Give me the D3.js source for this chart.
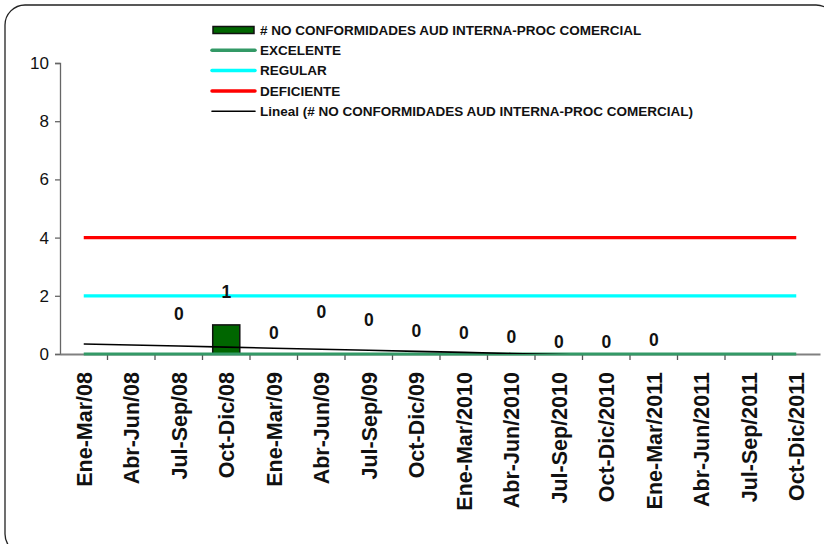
<!DOCTYPE html>
<html>
<head>
<meta charset="utf-8">
<script src="https://cdn.jsdelivr.net/npm/d3@7"></script>
<style>
  html, body { margin: 0; padding: 0; background: #fff; }
  svg { display: block; font-family: "Liberation Sans", Arial, sans-serif; }
</style>
</head>
<body>
<svg id="chart" width="824" height="544"></svg>
<script>
// Quarterly periods on the category axis
const periods = [
  "Ene-Mar/08", "Abr-Jun/08", "Jul-Sep/08", "Oct-Dic/08",
  "Ene-Mar/09", "Abr-Jun/09", "Jul-Sep/09", "Oct-Dic/09",
  "Ene-Mar/2010", "Abr-Jun/2010", "Jul-Sep/2010", "Oct-Dic/2010",
  "Ene-Mar/2011", "Abr-Jun/2011", "Jul-Sep/2011", "Oct-Dic/2011"
];
// Non-conformities found per quarter (null = no audit reported)
const noConformidades = [null, null, 0, 1, 0, 0, 0, 0, 0, 0, 0, 0, 0, null, null, null];
// Reference levels
const excelente = [0, 0, 0, 0, 0, 0, 0, 0, 0, 0, 0, 0, 0, 0, 0, 0];
const regular = [2, 2, 2, 2, 2, 2, 2, 2, 2, 2, 2, 2, 2, 2, 2, 2];
const deficiente = [4, 4, 4, 4, 4, 4, 4, 4, 4, 4, 4, 4, 4, 4, 4, 4];
const yTicks = [0, 2, 4, 6, 8, 10];

// Vertical lift (px) of each value label above its bar top
const labelLift = [0, 0, 40, 33, 21, 42, 34, 23, 21, 17, 12, 12, 14, 0, 0, 0];

const svg = d3.select("#chart");
const m = { left: 60, right: 820, top: 63, bottom: 354 };

const x = d3.scaleBand().domain(periods).range([m.left, m.right]).padding(0);
const y = d3.scaleLinear().domain([0, 10]).range([m.bottom, m.top]);
const cx = p => x(p) + x.bandwidth() / 2;

// Outer rounded frame
svg.append("rect")
  .attr("x", 5).attr("y", 5).attr("width", 831).attr("height", 549)
  .attr("rx", 20).attr("ry", 20)
  .attr("fill", "#fff").attr("stroke", "#222").attr("stroke-width", 1.3);

svg.append("defs").append("clipPath").attr("id", "plot")
  .append("rect").attr("x", m.left).attr("y", m.top)
  .attr("width", m.right - m.left).attr("height", m.bottom - m.top);

// Axes
const yAxis = svg.append("g").attr("transform", `translate(${m.left},0)`)
  .call(d3.axisLeft(y).tickValues(yTicks).tickSize(5).tickPadding(6));
yAxis.select(".domain").attr("stroke", "#666").attr("stroke-width", 1.3);
yAxis.selectAll(".tick line").attr("stroke", "#666").attr("stroke-width", 1.3);
yAxis.selectAll(".tick text")
  .attr("font-size", 17).attr("fill", "#111")
  .attr("font-family", "Liberation Sans, Arial, sans-serif");

const xAxis = svg.append("g").attr("transform", `translate(0,${m.bottom})`)
  .call(d3.axisBottom(x).tickSize(0).tickSizeOuter(0));
xAxis.select(".domain").attr("stroke", "#808080").attr("stroke-width", 2);
// Tick marks on category boundaries
xAxis.append("g").selectAll("line")
  .data(periods.slice(1))
  .join("line")
  .attr("x1", p => x(p)).attr("x2", p => x(p))
  .attr("y1", 0).attr("y2", 6)
  .attr("stroke", "#555").attr("stroke-width", 1.3);
xAxis.selectAll(".tick text")
  .attr("transform", "rotate(-90)")
  .attr("text-anchor", "end")
  .attr("x", -18).attr("y", 0).attr("dy", "0.36em")
  .attr("font-size", 21.5).attr("font-weight", "bold").attr("fill", "#111")
  .attr("font-family", "Liberation Sans, Arial, sans-serif");

// Bars
const barW = x.bandwidth() * 0.57;
svg.append("g").selectAll("rect")
  .data(periods.map((p, i) => ({ p, v: noConformidades[i] })).filter(d => d.v !== null && d.v > 0))
  .join("rect")
  .attr("x", d => cx(d.p) - barW / 2)
  .attr("y", d => y(d.v))
  .attr("width", barW)
  .attr("height", d => y(0) - y(d.v))
  .attr("fill", "#006600")
  .attr("stroke", "#111").attr("stroke-width", 1.5);

// Reference lines
const refLine = d3.line().x((d, i) => cx(periods[i])).y(d => y(d));
[[deficiente, "#ff0000"], [regular, "#00ffff"], [excelente, "#339966"]].forEach(([vals, col]) => {
  svg.append("path").attr("d", refLine(vals))
    .attr("fill", "none").attr("stroke", col).attr("stroke-width", 3.2);
});

// Linear trend of the reported quarters (x = 1..n)
const pts = noConformidades.map((v, i) => [i + 1, v]).filter(d => d[1] !== null);
const mx = d3.mean(pts, d => d[0]), my = d3.mean(pts, d => d[1]);
const slope = d3.sum(pts, d => (d[0] - mx) * (d[1] - my)) / d3.sum(pts, d => (d[0] - mx) ** 2);
const icpt = my - slope * mx;
const trend = periods.map((p, i) => icpt + slope * (i + 1));
svg.append("path")
  .attr("clip-path", "url(#plot)")
  .attr("d", refLine(trend))
  .attr("fill", "none").attr("stroke", "#000").attr("stroke-width", 1.6);

// Value labels
svg.append("g").selectAll("text")
  .data(periods.map((p, i) => ({ p, v: noConformidades[i], lift: labelLift[i] })).filter(d => d.v !== null))
  .join("text")
  .attr("x", d => cx(d.p))
  .attr("y", d => y(d.v) - d.lift)
  .attr("dy", "0.36em")
  .attr("text-anchor", "middle")
  .attr("font-size", 17.5).attr("font-weight", "bold").attr("fill", "#111")
  .text(d => d.v);

// Legend
const legend = [
  { name: "# NO CONFORMIDADES AUD INTERNA-PROC COMERCIAL", type: "bar", color: "#006600" },
  { name: "EXCELENTE", type: "line", color: "#339966", w: 3.5 },
  { name: "REGULAR", type: "line", color: "#00ffff", w: 3.5 },
  { name: "DEFICIENTE", type: "line", color: "#ff0000", w: 3.5 },
  { name: "Lineal (# NO CONFORMIDADES AUD INTERNA-PROC COMERCIAL)", type: "line", color: "#000", w: 1.6 }
];
const lg = svg.append("g").attr("transform", "translate(212,30)");
legend.forEach((d, i) => {
  const g = lg.append("g").attr("transform", `translate(0,${i * 20.3})`);
  if (d.type === "bar") {
    g.append("rect").attr("x", 1).attr("y", -3.5).attr("width", 41).attr("height", 7)
      .attr("fill", d.color).attr("stroke", "#111").attr("stroke-width", 1.5);
  } else {
    g.append("line").attr("x1", 0).attr("x2", 43).attr("y1", 0).attr("y2", 0)
      .attr("stroke", d.color).attr("stroke-width", d.w).attr("stroke-linecap", "round");
  }
  g.append("text").attr("x", 48).attr("y", 0).attr("dy", "0.36em")
    .attr("font-size", 13.5).attr("font-weight", "bold").attr("fill", "#111")
    .text(d.name);
});
</script>
</body>
</html>
